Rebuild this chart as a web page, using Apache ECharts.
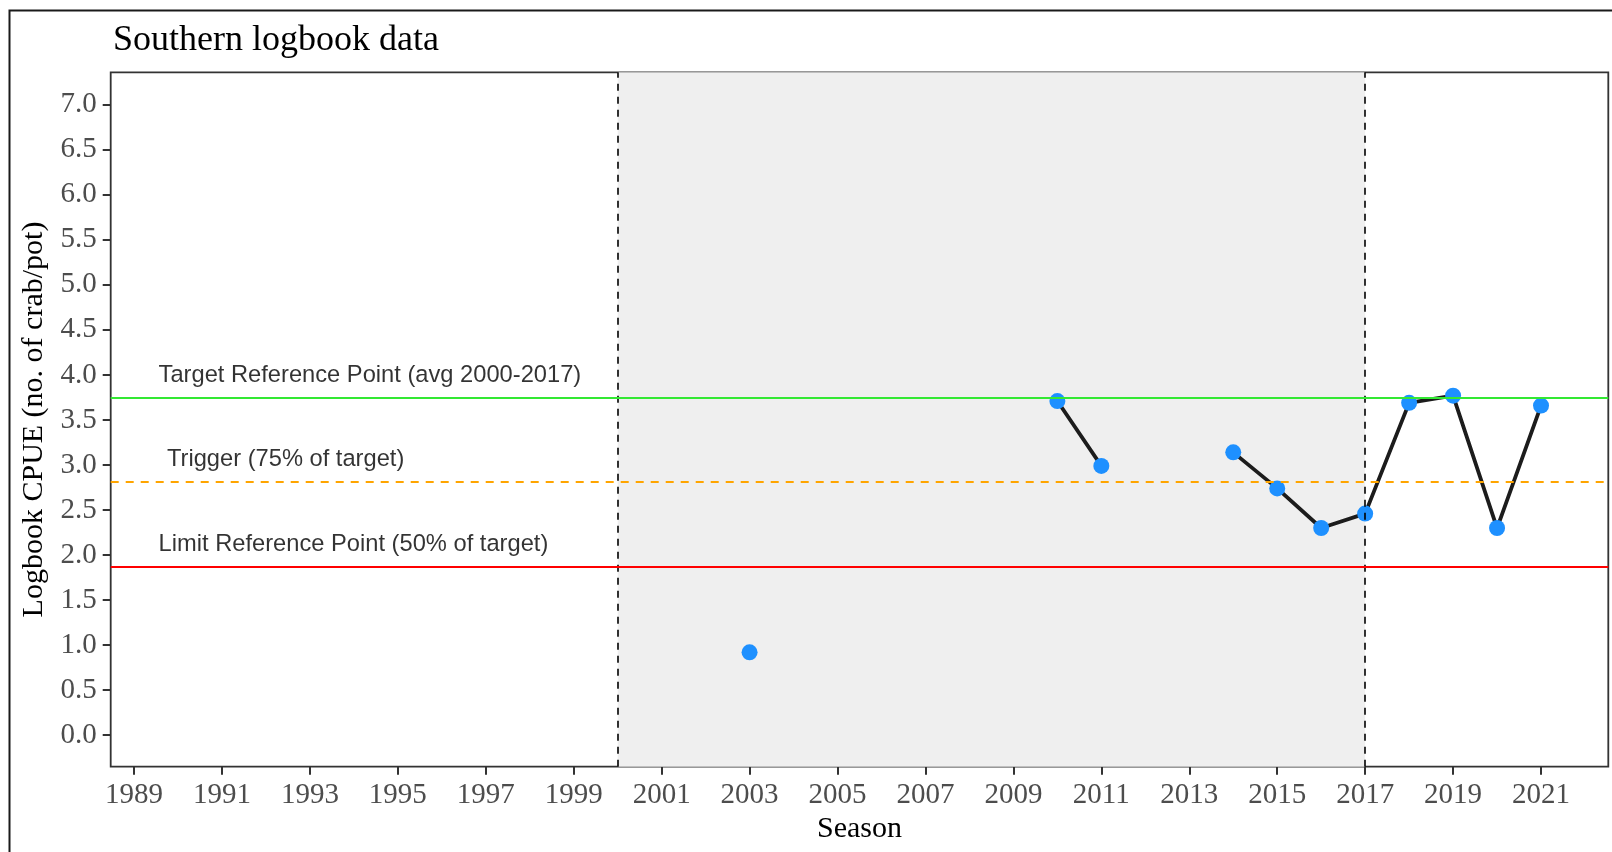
<!DOCTYPE html>
<html><head><meta charset="utf-8">
<script src="https://cdn.jsdelivr.net/npm/echarts@6/dist/echarts.min.js"></script>
<style>html,body{margin:0;padding:0;background:#fff}#c{width:1612px;height:852px}</style>
</head><body><div id="c"></div>
<script>
const titleText = 'Southern logbook data';
const xName = 'Season';
const yName = 'Logbook CPUE (no. of crab/pot)';
const seasons = [2003,2004,2005,2006,2007,2008,2009,2010,2011,2012,2013,2014,2015,2016,2017,2018,2019,2020,2021];
const cpue    = [0.92,null,null,null,null,null,null,3.71,2.99,null,null,3.14,2.74,2.30,2.46,3.69,3.77,2.30,3.66];
const xTicks = [1989,1991,1993,1995,1997,1999,2001,2003,2005,2007,2009,2011,2013,2015,2017,2019,2021];
const yTicks = [0,0.5,1,1.5,2,2.5,3,3.5,4,4.5,5,5.5,6,6.5,7];
const refNames = ['Target Reference Point (avg 2000-2017)','Trigger (75% of target)','Limit Reference Point (50% of target)'];
const refValues = [3.745, 2.809, 1.8725];
const refColors = ['#33e833', '#ffa500', '#ff0000'];
const refTypes = ['solid', [8,7], 'solid'];
const refLabelX = [1989.57, 1989.76, 1989.57];
const shadedPeriod = [2000, 2017];

const serif = 'Liberation Serif';
const sans = 'Liberation Sans';

const chart = echarts.init(document.getElementById('c'), null, {renderer:'canvas'});
const lineData = seasons.map((s,i)=>[s, cpue[i]]);

chart.setOption({
  animation: false,
  backgroundColor: '#fff',
  title: {
    text: titleText, left: 108, top: 18,
    textStyle: {fontFamily: serif, fontSize: 36, fontWeight: 'normal', color: '#000'}
  },
  graphic: [{
    type: 'rect', shape: {x: 9.5, y: 10.5, width: 1700, height: 1000},
    style: {fill: 'none', stroke: '#1a1a1a', lineWidth: 2}, silent: true, z: 100
  }],
  grid: {
    left: 110.7, right: 3.7, top: 72.3, bottom: 85.3,
    show: true, backgroundColor: '#fff', borderColor: '#333', borderWidth: 1.8
  },
  xAxis: {
    type: 'value', min: 1988.47, max: 2022.53, position: 'bottom',
    name: xName, nameLocation: 'middle', nameGap: 42,
    nameTextStyle: {fontFamily: serif, fontSize: 30, color: '#000'},
    axisLine: {show: false, onZero: false},
    splitLine: {show: false},
    axisTick: {show: true, length: 8, customValues: xTicks, lineStyle: {color: '#333', width: 2}},
    axisLabel: {customValues: xTicks, margin: 14, fontFamily: serif, fontSize: 29, color: '#4d4d4d',
      formatter: v => String(v)}
  },
  yAxis: {
    type: 'value', min: -0.35, max: 7.36, position: 'left',
    name: yName, nameLocation: 'middle', nameGap: 56, nameRotate: 90,
    nameTextStyle: {fontFamily: serif, fontSize: 30, color: '#000'},
    axisLine: {show: false, onZero: false},
    splitLine: {show: false},
    axisTick: {show: true, length: 8, customValues: yTicks, lineStyle: {color: '#333', width: 2}},
    axisLabel: {customValues: yTicks, margin: 14, fontFamily: serif, fontSize: 29, color: '#4d4d4d',
      formatter: v => Number(v).toFixed(1)}
  },
  series: [
    {
      type: 'line', data: [], z: 1, silent: true,
      markArea: {silent: true, itemStyle: {color: '#efefef'},
        data: [[{xAxis: shadedPeriod[0]}, {xAxis: shadedPeriod[1]}]]}
    },
    {
      type: 'line', data: [], z: 2, silent: true,
      markLine: {
        silent: true, symbol: ['none','none'], label: {show: false},
        data: shadedPeriod.map(x => ({xAxis: x, lineStyle: {color: '#000', width: 1.6, type: [7,6]}}))
          .concat(refValues.map((v,i) => ({yAxis: v, lineStyle: {color: refColors[i], width: 1.8, type: refTypes[i]}})))
      }
    },
    {
      type: 'line', data: lineData, z: 3, connectNulls: false,
      symbol: 'circle', symbolSize: 16, showSymbol: true, showAllSymbol: true,
      lineStyle: {color: '#1c1c1c', width: 3.8},
      itemStyle: {color: '#1e90ff', borderWidth: 0},
      emphasis: {disabled: true}
    },
    {
      type: 'scatter', z: 4, silent: true, symbolSize: 1,
      itemStyle: {color: 'rgba(0,0,0,0)'},
      data: refLabelX.map((x,i) => ({value: [x, refValues[i]], label: {formatter: refNames[i]}})),
      label: {show: true, position: [0,0], align: 'left', verticalAlign: 'bottom', offset: [0,-10],
        fontFamily: sans, fontSize: 23.7, color: '#000'}
    }
  ]
});
</script></body></html>
